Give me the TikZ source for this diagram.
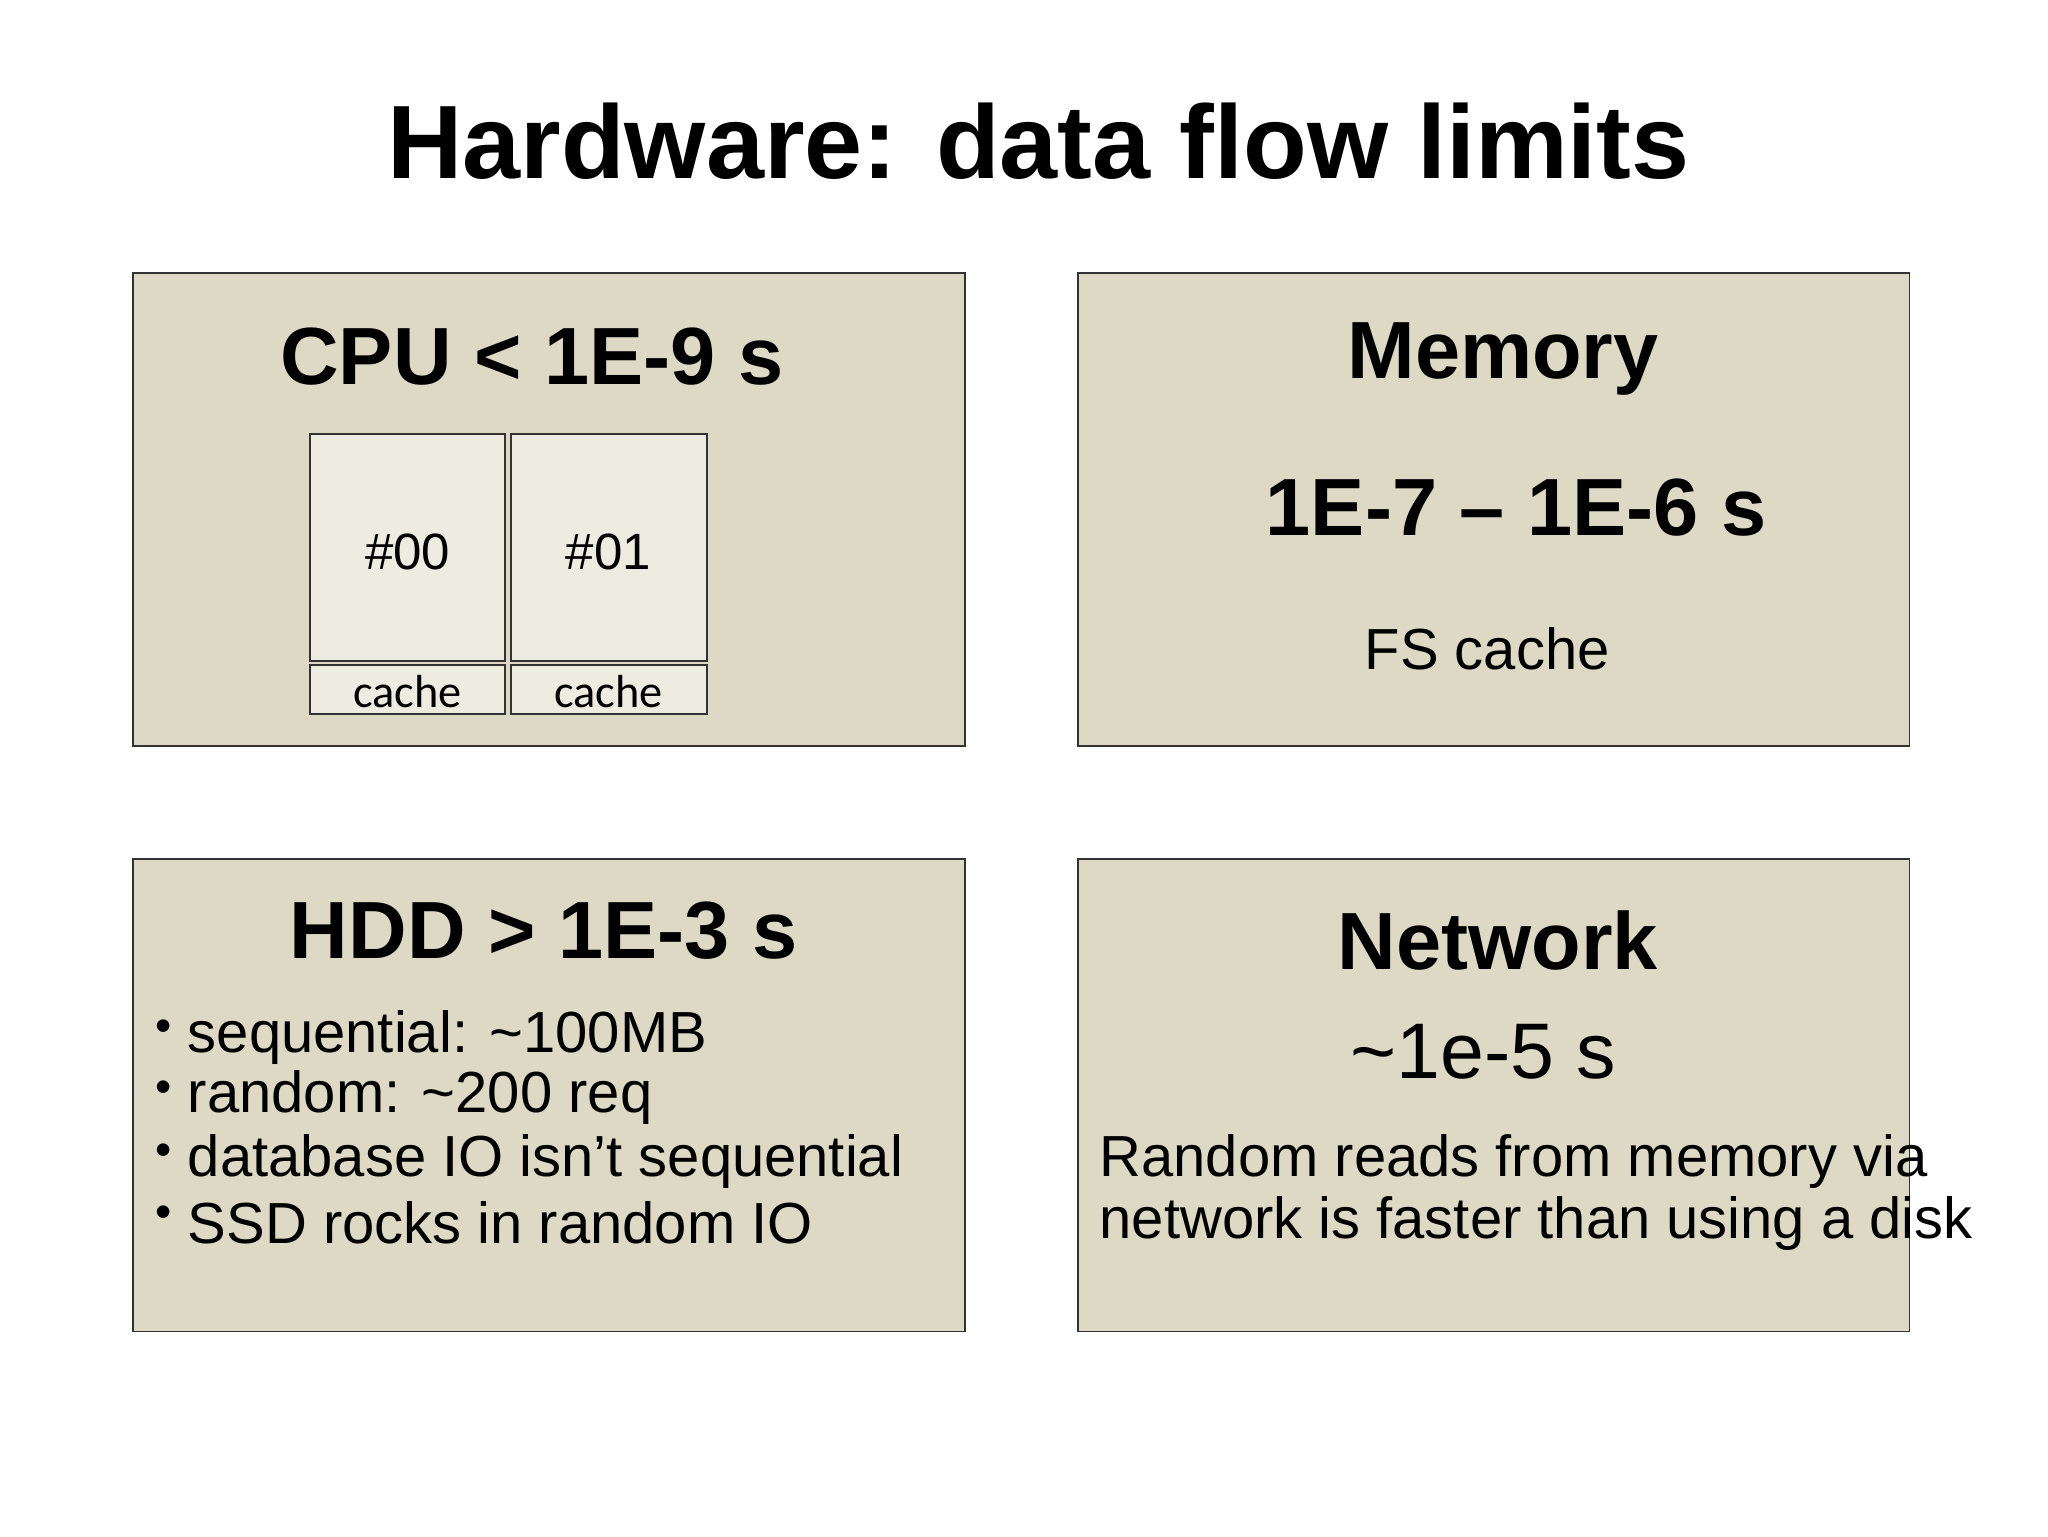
\documentclass[tikz,border=0pt]{standalone}
\usepackage{fontspec}
\setmainfont{Liberation Sans}
\newfontfamily\calib{Carlito}
\begin{document}
\begin{tikzpicture}[x=0.02cm,y=-0.02cm,
  panel/.style={draw=black!80,fill=panelc,line width=0.8pt},
  core/.style={draw=black!80,fill=corec,line width=0.8pt},
  big/.style={font=\fontsize{35}{40}\selectfont\bfseries},
  mid/.style={font=\fontsize{25}{30}\selectfont},
  line/.style={font=\fontsize{25}{30}\selectfont,anchor=west,inner sep=0}]
\definecolor{panelc}{HTML}{DDD9C4}
\definecolor{corec}{HTML}{EEECE1}
\useasboundingbox (0,0) rectangle (1552,1164);
\node[font=\fontsize{45}{50}\selectfont\bfseries] (title) at (787,107) {Hardware: data flow limits};
\draw[panel] (101,207) rectangle (731,565);
\draw[panel] (817,207) rectangle (1447,565);
\draw[panel] (101,651) rectangle (731,1009);
\draw[panel] (817,651) rectangle (1447,1009);
\node[big] (cpu) at (403,270) {CPU < 1E-9 s};
\draw[core] (235,329) rectangle (383,501);
\draw[core] (235,504) rectangle (383,541);
\draw[core] (387,329) rectangle (536,501);
\draw[core] (387,504) rectangle (536,541);
\node[font=\fontsize{22}{26}\selectfont] (c0) at (309,418) {\#00};
\node[font=\fontsize{22}{26}\selectfont] (c1) at (461,418) {\#01};
\node[font=\calib\fontsize{20}{24}\selectfont] (k0) at (309,524) {cache};
\node[font=\calib\fontsize{20}{24}\selectfont] (k1) at (461,524) {cache};
\node[big] (mem) at (1139,272) {Memory};
\node[big] (memt) at (1149,385) {1E-7 -- 1E-6 s};
\node[mid] (fs) at (1127,492) {FS cache};
\node[big] (hdd) at (412,705) {HDD > 1E-3 s};
\foreach \y/\t [count=\i] in {786/sequential: \textasciitilde100MB/sec,832/random: \textasciitilde200 req/sec,880/database IO isn’t sequential,927/SSD rocks in random IO}{
  \node[font=\fontsize{20}{24}\selectfont] (b\i) at (124,\y-5) {•};
  \node[line] (l\i) at (142,\y) {\t};
}
\node[big] (net) at (1135,713) {Network};
\node[font=\fontsize{34}{40}\selectfont] (nett) at (1124,797) {\textasciitilde1e-5 s};
\node[line] (n1) at (833,880) {Random reads from memory via};
\node[line] (n2) at (833,927) {network is faster than using a disk};
\end{tikzpicture}
\end{document}
